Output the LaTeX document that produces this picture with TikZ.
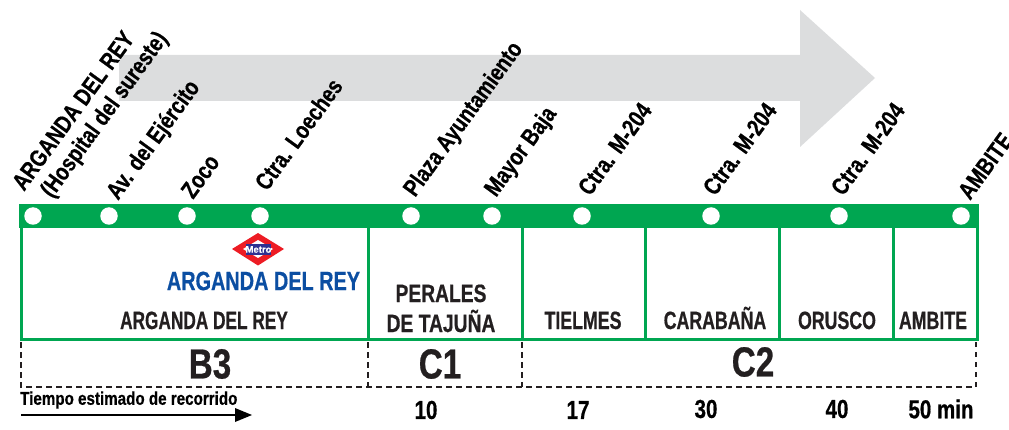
\documentclass[tikz,border=0pt]{standalone}
\usepackage{fontspec}
\setmainfont{Liberation Sans}
\newcommand{\fs}[2]{\fontsize{#1}{#1}\selectfont\bfseries\addfontfeature{FakeStretch=#2,FakeBold=0.6}}
\definecolor{lgreen}{HTML}{00A651}
\definecolor{lgray}{HTML}{DCDDDE}
\definecolor{lblue}{HTML}{0B4EA2}
\definecolor{lred}{HTML}{ED1C24}
\definecolor{lnavy}{HTML}{2E3192}
\definecolor{ltext}{HTML}{231F20}
\tikzset{
  x=1pt,y=-1pt,
  stoplabel/.style={rotate=54,anchor=base west,inner sep=0pt,font=\fs{24}{0.81},align=left},
  stopdot/.style={circle,fill=white,minimum size=17.5pt,inner sep=0pt},
  town/.style={anchor=base,inner sep=0pt,text=ltext,font=\fs{25}{0.71},align=center},
  townwide/.style={town,font=\fs{25}{0.77}},
  zone/.style={anchor=center,inner sep=0pt,text=ltext,font=\fs{42}{0.79}},
  mins/.style={anchor=center,inner sep=0pt,text=black,font=\fs{26}{0.79}},
  sep/.style={draw=lgreen,line width=3pt},
  zoneline/.style={draw=ltext,line width=2pt,dash pattern=on 5.5pt off 4.5pt},
}
\begin{document}
\begin{tikzpicture}
\useasboundingbox (0,0) rectangle (1009,430);
% grey arrow
\fill[lgray] (119,55) -- (800,55) -- (800,10) -- (875,78) -- (800,147) -- (800,101) -- (119,101) -- cycle;
% frame
\draw[sep] (21,227) -- (21,339) -- (977,339) -- (977,227);
\foreach \x in {368,522,645,779,893} \draw[sep] (\x,227) -- (\x,339);
\fill[lgreen] (19,204) rectangle (979,228);
% dashed
\draw[zoneline] (21,342) -- (21,387) -- (976,387) -- (976,341);
\draw[zoneline] (368,342) -- (368,387);
\draw[zoneline] (522,342) -- (522,387);
% dots
\foreach \n/\x in {a/33,b/109,c/187,d/260,e/411,f/492,g/582,h/711,i/839,j/961}
  \node[stopdot] (dot\n) at (\x,216) {};
% stop labels
\node[stoplabel] (l1) at (24,192) {ARGANDA DEL REY};
\node[stoplabel] (l1b) at (52,199) {(Hospital del sureste)};
\node[stoplabel] (l2) at (118,201) {Av. del Ejército};
\node[stoplabel] (l3) at (193,200) {Zoco};
\node[stoplabel] (l4) at (267,192) {Ctra. Loeches};
\node[stoplabel] (l5) at (415,198) {Plaza Ayuntamiento};
\node[stoplabel] (l6) at (496,198) {Mayor Baja};
\node[stoplabel] (l7) at (590,197) {Ctra. M-204};
\node[stoplabel] (l8) at (715,197) {Ctra. M-204};
\node[stoplabel] (l9) at (843,197) {Ctra. M-204};
\node[stoplabel] (l10) at (970,201) {AMBITE};
% metro logo
\fill[lred] (232,249) -- (258,233) -- (284,249) -- (258,265.5) -- cycle;
\fill[white] (243,249) -- (258,240) -- (273,249) -- (258,258) -- cycle;
\fill[lnavy] (246,244) rectangle (271,255);
\node[inner sep=0pt,text=white,font=\fs{9.5}{1}] (metro) at (258.5,249.5) {Metro};
\node[inner sep=0pt,text=lblue,font=\fs{26.5}{0.75}] (station) at (263.5,281) {ARGANDA DEL REY};
% towns
\node[town,font=\fs{25}{0.69}] (t1) at (204,329) {ARGANDA DEL REY};
\node[townwide] (t2a) at (441,302) {PERALES};
\node[townwide] (t2b) at (441,332) {DE TAJUÑA};
\node[town] (t3) at (583,329) {TIELMES};
\node[town] (t4) at (715,329) {CARABAÑA};
\node[town] (t5) at (837,329) {ORUSCO};
\node[town] (t6) at (933,329) {AMBITE};
% zones
\node[zone] (b3) at (210,364) {B3};
\node[zone] (c1) at (440,364) {C1};
\node[zone] (c2) at (753,362) {C2};
% time
\node[inner sep=0pt,anchor=west,font=\fs{18.5}{0.82}] (tiempo) at (20,400) {Tiempo estimado de recorrido};
\coordinate (ts) at (21,415);
\coordinate (te) at (235,415);
\fill (te)++(0,-7) -- (252,415) -- (235,422) -- cycle;
\draw[line width=2.6pt] (ts) -- (te);
\node[mins] (m1) at (426,410) {10};
\node[mins] (m2) at (578,410) {17};
\node[mins] (m3) at (706,409) {30};
\node[mins] (m4) at (837,409) {40};
\node[mins] (m5) at (941,409) {50 min};
\end{tikzpicture}
\end{document}
